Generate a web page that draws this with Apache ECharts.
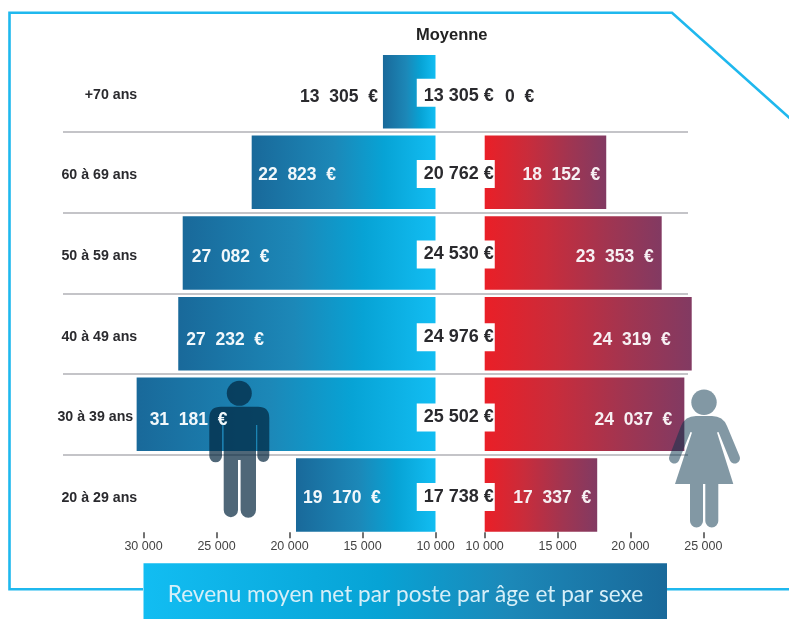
<!DOCTYPE html>
<html><head><meta charset="utf-8">
<style>html,body{margin:0;padding:0;background:#fff}#c{width:789px;height:619px}</style>
<script src="https://cdn.jsdelivr.net/npm/echarts@6/dist/echarts.min.js"></script>
</head><body><div id="c"></div>
<script>
const ageGroups = ['+70 ans','60 à 69 ans','50 à 59 ans','40 à 49 ans','30 à 39 ans','20 à 29 ans'];
// amounts printed on the chart
const malePrinted = [13305,22823,27082,27232,31181,19170];
const femalePrinted = [0,18152,23353,24319,24037,17337];
const averagePrinted = [13305,20762,24530,24976,25502,17738];
// bar ends as read against the printed axis
const maleBarReading = [13600,22590,27315,27620,30470,19555];
const femaleBarReading = [0,18340,22145,24205,23700,17720];
const maleTicks = [30000,25000,20000,15000,10000];
const femaleTicks = [10000,15000,20000,25000];
const titleText = 'Revenu moyen net par poste par âge et par sexe';
const averageHeader = 'Moyenne';

// label placement (style only)
const maleInset = [0,6.5,9,8,13,7];
const femaleInset = [0,6,8,21,12,6];
const textDrop = [5.5,3,4,6.5,6,3.5];
const boxDrop = [1,1.7,1.5,3.5,3.2,2];

const group = (n, sep) => String(n).replace(/\B(?=(\d{3})$)/, sep);
const wide = n => group(n,'  ') + '  €';
const tight = n => group(n,' ') + ' €';
const boldFont = 'Liberation Sans';
const maleGrad = {type:'linear',x:0,y:0,x2:1,y2:0,colorStops:[
  {offset:0,color:'#19699a'},{offset:.45,color:'#1c88b8'},{offset:.72,color:'#07a3d5'},{offset:1,color:'#12bdf2'}]};
const femaleGrad = {type:'linear',x:0,y:0,x2:1,y2:0,colorStops:[
  {offset:0,color:'#ea1f27'},{offset:.35,color:'#c92c3b'},{offset:.7,color:'#a03551'},{offset:1,color:'#823a62'}]};
const bannerGrad = {type:'linear',x:0,y:0,x2:1,y2:0,colorStops:[
  {offset:0,color:'#12bdf2'},{offset:.45,color:'#07a3d5'},{offset:.7,color:'#1c88b8'},{offset:1,color:'#19699a'}]};
const frame = '#1fb8ee';
const gridTop = 51.3, gridH = 484;
const BAR = 73.5;
const valueFont = {fontFamily:boldFont,fontWeight:'bold',fontSize:17.5};

const manPath = 'M221 406.7L258 406.7Q269.3 406.7 269.3 418L269.3 456A6 6 0 0 1 257.3 456L257.3 425L256 425L256 510A7.7 7.7 0 0 1 240.6 510L240.6 460L238 460L238 510A7.15 7.15 0 0 1 223.7 510L223.7 425L222 425L222 456A6.35 6.35 0 0 1 209.3 456L209.3 418Q209.3 406.7 221 406.7Z';
const womanPath = 'M696 416L712 416Q723 416 727 426L739.5 456A5.2 5.2 0 0 1 730 460.5L718.5 432L717 432.5L733.3 484L718.3 484L718.3 521A6.5 6.5 0 0 1 705.3 521L705.3 484L703 484L703 521A6.5 6.5 0 0 1 690 521L690 484L675 484L692 432.5L690.5 432L679 460.5A5.2 5.2 0 0 1 669.5 456L681 426Q685 416 696 416Z';

const boxText = {color:'#2a2a2e',fontFamily:boldFont,fontWeight:'bold',fontSize:18,backgroundColor:'#fff',width:77,align:'right'};
const option = {
  animation:false,
  backgroundColor:'#fff',
  grid:[
    {left:63,width:625,top:gridTop,height:gridH},
    {left:136.2,width:299.3,top:gridTop,height:gridH},
    {left:484.7,width:218.6,top:gridTop,height:gridH},
    {left:416.5,width:78.5,top:gridTop,height:gridH}
  ],
  xAxis:[
    {gridIndex:0,type:'value',show:false},
    {gridIndex:1,type:'value',inverse:true,min:10000,max:30500,position:'bottom',offset:-3,
      splitLine:{show:false},axisLine:{show:false},
      axisTick:{show:true,length:6,lineStyle:{color:'#444',width:1.5},customValues:maleTicks},
      axisLabel:{customValues:maleTicks,margin:8,color:'#444',fontFamily:boldFont,fontSize:12.5,formatter:v=>group(v,' ')}},
    {gridIndex:2,type:'value',min:10000,max:25000,position:'bottom',offset:-3,
      splitLine:{show:false},axisLine:{show:false},
      axisTick:{show:true,length:6,lineStyle:{color:'#444',width:1.5},customValues:femaleTicks},
      axisLabel:{customValues:femaleTicks,margin:8,color:'#444',fontFamily:boldFont,fontSize:12.5,formatter:v=>group(v,' ')}},
    {gridIndex:3,type:'category',data:[averageHeader],position:'top',
      axisLine:{show:false},axisTick:{show:false},
      axisLabel:{margin:7,color:'#222',fontFamily:boldFont,fontWeight:'bold',fontSize:16.5,padding:[0,8,0,0]}}
  ],
  yAxis:[
    {gridIndex:0,type:'category',inverse:true,data:ageGroups,axisLine:{show:false},axisTick:{show:false},axisLabel:{show:false},
      splitLine:{show:true,showMinLine:false,showMaxLine:false,lineStyle:{color:'#c4c4c8',width:2}}},
    {gridIndex:1,type:'category',inverse:true,data:ageGroups,position:'left',
      axisLine:{show:false,onZero:false},axisTick:{show:false},splitLine:{show:false},
      axisLabel:{margin:-1,color:'#2a2a2e',fontFamily:boldFont,fontWeight:'bold',fontSize:14.2,padding:[6,0,0,0],
        formatter:v=>v==='30 à 39 ans'?'{s|'+v+'}':v,
        rich:{s:{color:'#2a2a2e',fontFamily:boldFont,fontWeight:'bold',fontSize:14.2,padding:[0,4,0,0]}}}},
    {gridIndex:2,type:'category',inverse:true,data:ageGroups,show:false},
    {gridIndex:3,type:'category',inverse:true,data:ageGroups,show:false}
  ],
  series:[
    {type:'bar',name:'Hommes',xAxisIndex:1,yAxisIndex:1,z:2,barWidth:BAR,barGap:'-100%',
      itemStyle:{color:maleGrad},data:maleBarReading},
    {type:'bar',name:'Hommes (montants)',xAxisIndex:1,yAxisIndex:1,z:6,barWidth:BAR,barGap:'-100%',silent:true,
      itemStyle:{color:'rgba(0,0,0,0)'},
      data:maleBarReading.map((v,i)=>({value:v,label:i===0
        ?{show:true,position:'left',distance:5,offset:[0,textDrop[i]],color:'#2a2a2e',formatter:wide(malePrinted[i]),...valueFont}
        :{show:true,position:'insideLeft',distance:maleInset[i],offset:[0,textDrop[i]],color:'#f2f8fb',formatter:wide(malePrinted[i]),...valueFont}}))},
    {type:'bar',name:'Femmes',xAxisIndex:2,yAxisIndex:2,z:2,barWidth:BAR,
      itemStyle:{color:femaleGrad},
      data:femaleBarReading.map((v,i)=>v===0
        ?{value:v,itemStyle:{color:'rgba(0,0,0,0)'}}
        :{value:v,label:{show:true,position:'insideRight',distance:femaleInset[i],offset:[0,textDrop[i]],color:'#f7f0f3',formatter:wide(femalePrinted[i]),...valueFont}})},
    {type:'scatter',name:averageHeader,xAxisIndex:3,yAxisIndex:3,z:7,symbolSize:1,silent:true,
      itemStyle:{color:'rgba(0,0,0,0)',opacity:1},
      data:averagePrinted.map((v,i)=>({value:[averageHeader,ageGroups[i],v],label:{offset:[0,boxDrop[i]]}})),
      label:{show:true,position:'inside',opacity:1,
        formatter:p=>(p.dataIndex===0?'{first|':'{box|')+tight(p.value[2])+'}',
        rich:{
          box:{...boxText,height:28,lineHeight:28,padding:[0,1,0,0]},
          first:{...boxText,height:22,lineHeight:22,padding:[6,1,0,0]}
        }}},
    {type:'custom',name:'Silhouettes',coordinateSystem:'none',z:4,silent:true,data:[0],
      renderItem:()=>({type:'group',children:[
        {type:'circle',shape:{cx:239.3,cy:393.3,r:12.5},style:{fill:'rgba(0,35,60,.69)'}},
        {type:'path',shape:{pathData:manPath,layout:'cover',x:209.3,y:406.7,width:60,height:111},style:{fill:'rgba(0,35,60,.69)'}},
        {type:'circle',shape:{cx:704,cy:402.3,r:12.7},style:{fill:'rgba(5,49,73,.5)'}},
        {type:'path',shape:{pathData:womanPath,layout:'cover',x:669,y:416,width:71,height:111.5},style:{fill:'rgba(5,49,73,.5)'}}
      ]})}
  ],
  graphic:[
    {type:'polyline',z:1,shape:{points:[[790,118.5],[672,12.7],[9.5,12.7],[9.5,589.3],[143,589.3]]},style:{stroke:frame,lineWidth:2.6,fill:null}},
    {type:'line',z:1,shape:{x1:667,y1:589.3,x2:789,y2:589.3},style:{stroke:frame,lineWidth:2.6}},
    {type:'rect',z:1,shape:{x:143.5,y:563.3,width:523.5,height:56},style:{fill:bannerGrad}},
    {type:'text',z:8,x:405.5,y:595,style:{text:titleText,fill:'#d6eff8',font:'22.6px Lato',align:'center',verticalAlign:'middle'}},
    {type:'text',z:8,x:505,y:97,style:{text:wide(femalePrinted[0]),fill:'#2a2a2e',font:'bold 17.5px "Liberation Sans"',align:'left',verticalAlign:'middle'}}
  ]
};
echarts.init(document.getElementById('c'),null,{renderer:'canvas'}).setOption(option);
</script></body></html>
